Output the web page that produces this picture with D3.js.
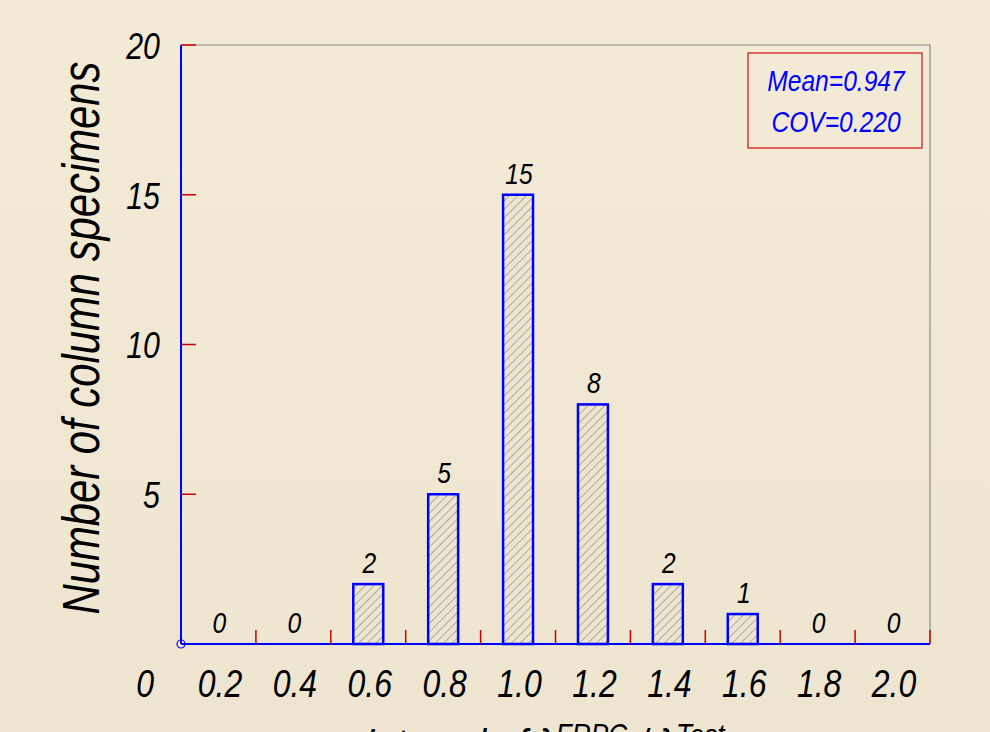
<!DOCTYPE html>
<meta charset="utf-8">
<script src="https://d3js.org/d3.v7.min.js"></script>
<style>
  body { margin: 0; overflow: hidden; }
  text { font-family: "Liberation Sans", Arial, sans-serif; font-style: italic; }
</style>
<div id="my_div"></div>
<script>
    // data
    var binCenters = [0.2, 0.4, 0.6, 0.8, 1.0, 1.2, 1.4, 1.6, 1.8, 2.0];
    var counts = [0, 0, 2, 5, 15, 8, 2, 1, 0, 0];
    var binEdges = [0.3, 0.5, 0.7, 0.9, 1.1, 1.3, 1.5, 1.7, 1.9, 2.1];
    var xTickValues = [0, 0.2, 0.4, 0.6, 0.8, 1.0, 1.2, 1.4, 1.6, 1.8, 2.0];
    var xTickLabels = ["0", "0.2", "0.4", "0.6", "0.8", "1.0", "1.2", "1.4", "1.6", "1.8", "2.0"];
    var yTickValues = [5, 10, 15, 20];
    var statLines = ["Mean=0.947", "COV=0.220"];

    var W = 990, H = 732;
    var plotL = 181, plotT = 45, plotR = 930, plotB = 644;
    var NARROW = 0.82; // fake a narrow face

    // squeeze a text horizontally around its own anchor point
    function narrow(sel) {
      sel.each(function() {
        var t = d3.select(this);
        var tx = +t.attr("x") || 0, ty = +t.attr("y") || 0;
        t.attr("transform", "translate(" + tx + "," + ty + ") scale(" + NARROW + ",1) translate(" + (-tx) + "," + (-ty) + ")");
      });
    }

    var svg = d3.select("#my_div")
      .append("svg")
        .attr("width", W)
        .attr("height", H);

    // background
    var defs = svg.append("defs");
    var grad = defs.append("linearGradient")
        .attr("id", "bg")
        .attr("x1", 0).attr("y1", 0).attr("x2", 0).attr("y2", 1);
    grad.append("stop").attr("offset", "0%").attr("stop-color", "#f3ebd6");
    grad.append("stop").attr("offset", "100%").attr("stop-color", "#ede5d0");
    svg.append("rect").attr("width", W).attr("height", H).attr("fill", "url(#bg)");

    // hatch for the bars
    var pat = defs.append("pattern")
        .attr("id", "hatch")
        .attr("patternUnits", "userSpaceOnUse")
        .attr("width", 6).attr("height", 6)
        .attr("patternTransform", "rotate(45)");
    pat.append("rect").attr("width", 6).attr("height", 6).attr("fill", "#ece5d1");
    pat.append("line")
        .attr("x1", 0).attr("y1", 0).attr("x2", 0).attr("y2", 6)
        .attr("stroke", "#8f8b82").attr("stroke-width", 1.3);

    var x = d3.scaleLinear().domain([0.1, 2.1]).range([plotL, plotR]);
    var y = d3.scaleLinear().domain([0, 20]).range([plotB, plotT]);

    // frame (gray top / right)
    svg.append("path")
        .attr("d", "M" + plotL + "," + plotT + "H" + plotR + "V" + plotB)
        .attr("fill", "none").attr("stroke", "#8c8c8c").attr("stroke-width", 1.2);

    // x labels
    var gx = svg.append("g")
        .attr("transform", "translate(0," + plotB + ")")
        .call(d3.axisBottom(x).tickValues(xTickValues)
          .tickFormat(function(d, i) { return xTickLabels[i]; })
          .tickSize(0).tickPadding(25));
    gx.select(".domain").remove();
    gx.selectAll("text")
        .style("font-size", "39px")
        .attr("fill", "black")
        .attr("x", 1)
        .call(narrow);

    // y labels
    var gy = svg.append("g")
        .attr("transform", "translate(" + plotL + ",0)")
        .call(d3.axisLeft(y).tickValues(yTickValues).tickSize(0).tickPadding(21));
    gy.select(".domain").remove();
    gy.selectAll("text")
        .style("font-size", "37px")
        .attr("fill", "black")
        .attr("dy", "0.36em")
        .call(narrow);

    var binData = binCenters.map(function(c, i) { return {c: c, n: counts[i]}; });

    // bars
    svg.selectAll(".bar")
      .data(binData.filter(function(d) { return d.n > 0; }))
      .enter()
      .append("rect")
        .attr("class", "bar")
        .attr("x", function(d) { return x(d.c - 0.04); })
        .attr("y", function(d) { return y(d.n); })
        .attr("width", function(d) { return x(d.c + 0.04) - x(d.c - 0.04); })
        .attr("height", function(d) { return y(0) - y(d.n); })
        .attr("fill", "url(#hatch)")
        .attr("stroke", "#0000ff")
        .attr("stroke-width", 2.5);

    // count labels
    svg.selectAll(".cnt")
      .data(binData)
      .enter()
      .append("text")
        .attr("class", "cnt")
        .attr("x", function(d) { return x(d.c) + 1; })
        .attr("y", function(d) { return y(d.n) - 11; })
        .attr("text-anchor", "middle")
        .style("font-size", "30px")
        .text(function(d) { return d.n; })
        .call(narrow);

    // axis lines (blue)
    svg.append("line")
        .attr("x1", plotL).attr("y1", plotT).attr("x2", plotL).attr("y2", plotB)
        .attr("stroke", "#0000ff").attr("stroke-width", 2);
    svg.append("line")
        .attr("x1", plotL).attr("y1", plotB).attr("x2", plotR).attr("y2", plotB)
        .attr("stroke", "#0000ff").attr("stroke-width", 2);
    svg.append("circle")
        .attr("cx", plotL).attr("cy", plotB).attr("r", 4)
        .attr("fill", "none").attr("stroke", "#0000ff").attr("stroke-width", 1.2);

    // red ticks
    svg.selectAll(".xt")
      .data(binEdges)
      .enter()
      .append("line")
        .attr("x1", function(d) { return x(d); }).attr("x2", function(d) { return x(d); })
        .attr("y1", plotB).attr("y2", plotB - 14)
        .attr("stroke", "#cc0000").attr("stroke-width", 1.5);
    svg.selectAll(".yt")
      .data(yTickValues)
      .enter()
      .append("line")
        .attr("x1", plotL).attr("x2", plotL + 15)
        .attr("y1", function(d) { return y(d); }).attr("y2", function(d) { return y(d); })
        .attr("stroke", "#cc0000").attr("stroke-width", 1.5);

    // stats box
    svg.append("rect")
        .attr("x", 748).attr("y", 53).attr("width", 174).attr("height", 95)
        .attr("fill", "none").attr("stroke", "#d01010").attr("stroke-width", 1.2);
    svg.selectAll(".stat")
      .data(statLines)
      .enter()
      .append("text")
        .attr("x", 836)
        .attr("y", function(d, i) { return 91 + i * 41; })
        .attr("text-anchor", "middle")
        .attr("fill", "#0000ff")
        .style("font-size", "30px")
        .text(function(d) { return d; })
        .call(narrow);

    // y axis title
    svg.append("text")
        .attr("transform", "translate(99,338) rotate(-90) scale(" + NARROW + ",1)")
        .attr("text-anchor", "middle")
        .style("font-size", "51px")
        .text("Number of column specimens");

    // x axis title (mostly below the picture edge)
    var xt = svg.append("text")
        .attr("x", 545).attr("y", 760)
        .attr("text-anchor", "middle")
        .style("font-size", "45px");
    xt.append("tspan").text("Interval of \u03bb");
    xt.append("tspan").attr("dy", -14).style("font-size", "32px").text("FRPC");
    xt.append("tspan").attr("dy", 14).text(" / \u03bb");
    xt.append("tspan").attr("dy", -14).style("font-size", "32px").text("Test");
    xt.call(narrow);
</script>
